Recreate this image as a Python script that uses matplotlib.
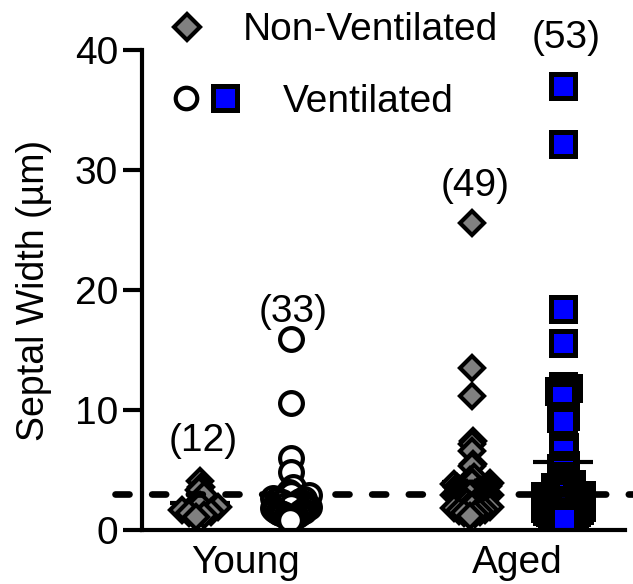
import numpy as np
import matplotlib
matplotlib.use("Agg")
import matplotlib.pyplot as plt
from matplotlib.lines import Line2D

plt.rcParams['font.family'] = ['Liberation Sans', 'DejaVu Sans']

# septal width (um), one list per group
young_nv = [4.1, 3.6, 3.3, 2.9, 2.2, 2.1, 1.9, 1.7, 1.5, 1.4, 1.25, 1.1]
young_v = [15.9, 10.6, 6.0, 4.8, 3.6, 3.2, 3.0, 2.9, 2.7, 2.6, 2.5, 2.4, 2.3,
           2.2, 2.1, 2.0, 1.9, 1.8, 1.8, 1.7, 1.6, 1.5, 1.5, 1.4, 1.3, 1.3,
           1.2, 1.2, 1.1, 1.0, 1.0, 0.9, 0.8]
aged_nv = [25.6, 13.5, 11.2, 7.4, 7.2, 6.6, 5.5, 5.3, 4.4, 4.2, 4.0, 3.9, 3.8,
           3.7, 3.6, 3.5, 3.4, 3.4, 3.3, 3.3, 3.2, 3.2, 3.1, 3.1, 3.0, 3.0,
           2.9, 2.9, 2.8, 2.8, 2.7, 2.7, 2.6, 2.6, 2.5, 2.5, 2.4, 2.3, 2.2,
           2.1, 2.0, 1.9, 1.8, 1.7, 1.6, 1.5, 1.4, 1.3, 1.2]
aged_v = [37.0, 32.2, 18.4, 15.6, 12.0, 11.8, 11.6, 11.4, 11.2, 9.5, 9.3, 9.1,
          7.1, 6.9, 6.7, 5.4, 5.2, 5.0, 4.5, 4.2, 4.0, 3.8, 3.6, 3.4, 3.2,
          3.0, 2.9, 2.8, 2.6, 2.5, 2.4, 2.3, 2.2, 2.1, 2.0, 1.9, 1.8, 1.7,
          1.6, 1.5, 1.5, 1.4, 1.4, 1.3, 1.3, 1.2, 1.2, 1.1, 1.1, 1.0, 1.0,
          0.9, 0.9]

group_names = ['Young', 'Aged']
threshold = 3
count_label_y = [7.4, 18.2, 28.7, 41.0]


def spread(values, center, bin_h=1.0, step=0.066, half_width=0.2):
    # simple deterministic scatter-dot layout: points in the same y bin are
    # fanned out sideways, alternating around the centre; sparse bins stay narrow
    vals = np.asarray(values, dtype=float)
    x = np.full(len(vals), float(center))
    bins = np.floor(vals / bin_h).astype(int)
    for b in np.unique(bins):
        idx = np.where(bins == b)[0]
        idx = idx[np.argsort(vals[idx])]
        n = len(idx)
        if n == 1:
            continue
        st = min(step * min(1.0, (n - 1) / 6), 2 * half_width / (n - 1))
        offs = (np.arange(n) - (n - 1) / 2) * st
        offs = offs[np.argsort(np.abs(offs), kind='stable')]
        x[idx] = center + offs
    return x


fig = plt.figure(figsize=(6.33, 5.84), dpi=100)
ax = fig.add_axes([142 / 633, 54 / 584, 483 / 633, 480 / 584])

groups = [
    (young_nv, 0, 0.12, dict(marker='D', ms=12.2, mfc='#808080', mew=3.0)),
    (young_v, 1, 0.066, dict(marker='o', ms=16.4, mfc='white', mew=3.0)),
    (aged_nv, 3, 0.066, dict(marker='D', ms=12.2, mfc='#808080', mew=3.0)),
    (aged_v, 4, 0.066, dict(marker='s', ms=17.3, mfc='#0000FF', mew=3.6)),
]

for (vals, pos, st, style), ly in zip(groups, count_label_y):
    m = np.mean(vals)
    ax.plot([pos - 0.33, pos + 0.33], [m, m], color='black', lw=3,
            solid_capstyle='butt', zorder=1.5)
    ax.plot(spread(vals, pos, step=st), vals, linestyle='none', mec='black',
            zorder=2, **style)
    ax.text(pos + 0.03, ly, f'({len(vals)})', fontsize=28, ha='center',
            va='center', clip_on=False)

ax.plot([-0.94, 4.77], [threshold, threshold], color='black', lw=4.8,
        linestyle=(0, (2.1, 3.4)), dash_capstyle='round', clip_on=False,
        zorder=4)

ax.set_xlim(-0.639, 4.683)
ax.set_ylim(0, 40)
ax.set_yticks([0, 10, 20, 30, 40])
ax.set_xticks([0.5, 3.5])
ax.set_xticklabels(group_names)
ax.tick_params(axis='y', length=13.7, width=3, labelsize=28, pad=3.5)
ax.tick_params(axis='x', length=0, labelsize=28, pad=11)
ax.set_ylabel('Septal Width (µm)', fontsize=27)
ax.yaxis.set_label_coords(-0.186, 0.5)

for s in ['top', 'right']:
    ax.spines[s].set_visible(False)
for s in ['left', 'bottom']:
    ax.spines[s].set_linewidth(3)

# legend drawn by hand so the two rows keep their own text offsets
fig.add_artist(Line2D([187 / 633], [1 - 27 / 584], transform=fig.transFigure,
                      marker='D', ms=13, mfc='#808080', mec='black', mew=3.0))
fig.add_artist(Line2D([186 / 633], [1 - 98 / 584], transform=fig.transFigure,
                      marker='o', ms=15.5, mfc='white', mec='black', mew=3.0))
fig.add_artist(Line2D([225 / 633], [1 - 98 / 584], transform=fig.transFigure,
                      marker='s', ms=17.3, mfc='#0000FF', mec='black', mew=3.6))
fig.text(243 / 633, 1 - 40 / 584, 'Non-Ventilated', fontsize=28, va='baseline')
fig.text(283 / 633, 1 - 112 / 584, 'Ventilated', fontsize=28, va='baseline')

fig.savefig('out.png', dpi=100)
